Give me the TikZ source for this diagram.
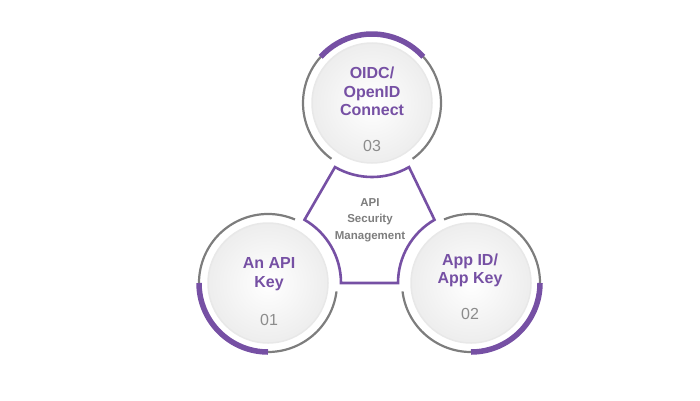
\documentclass[tikz,border=0pt]{standalone}
\usepackage{fontspec}
\setmainfont{Liberation Sans}
\definecolor{ringpurple}{RGB}{118,80,164}
\definecolor{ringgray}{RGB}{125,125,125}
\definecolor{numgray}{RGB}{140,140,140}
\definecolor{labgray}{RGB}{125,125,125}
\begin{document}
\begin{tikzpicture}[x=1pt,y=1pt,
  ring/.style={draw=ringgray, line width=2.2pt},
  accent/.style={draw=ringpurple, line width=5.5pt},
  disk/.style={circle, minimum size=120pt, inner sep=0pt, draw=black!9, line width=1.5pt, shading=radial, inner color=white, outer color=black!7},
  title/.style={text=ringpurple, font=\fontsize{16}{18.5}\selectfont\bfseries, anchor=base},
  num/.style={text=numgray, font=\fontsize{16}{18}\selectfont, anchor=base},
  hubtext/.style={text=labgray, font=\fontsize{11.5}{14}\selectfont\bfseries, anchor=base},
  hub/.style={draw=ringpurple, line width=2.6pt, line join=miter}
]
\useasboundingbox (0,0) rectangle (700,400);
\coordinate (T) at (372,297);
\coordinate (L) at (268,117);
\coordinate (R) at (471,117);

% disks
\node[disk] (dT) at (T) {};
\node[disk] (dL) at (L) {};
\node[disk] (dR) at (R) {};

% rings
\draw[ring] (T) ++(-54:69) arc[start angle=-54, end angle=234, radius=69];
\draw[ring] (L) ++(67:69) arc[start angle=67, end angle=353, radius=69];
\draw[ring] (R) ++(187:69) arc[start angle=187, end angle=473, radius=69];

% accents
\draw[accent] (T) ++(42:69) arc[start angle=42, end angle=138, radius=69];
\draw[accent] (L) ++(180:69) arc[start angle=180, end angle=270, radius=69];
\draw[accent] (R) ++(270:69) arc[start angle=270, end angle=360, radius=69];

% hub shape
\path (T) ++(-120:74) coordinate (p1);
\path (R) ++(120:73) coordinate (p2);
\path (L) ++(0:73) coordinate (p3);
\draw[hub] (p1) arc[start angle=-120, end angle=-60, radius=74]
  -- (p2) arc[start angle=120, end angle=180, radius=73]
  -- (p3) arc[start angle=0, end angle=60, radius=73] -- cycle;

% hub text
\node[hubtext] (h1) at (370,194) {API};
\node[hubtext] (h2) at (370,178) {Security};
\node[hubtext] (h3) at (370,161) {Management};

% top texts
\node[title] (t1) at (372,322) {OIDC/};
\node[title] (t2) at (372,303) {OpenID};
\node[title] (t3) at (372,285) {Connect};
\node[num] (t4) at (372,249) {03};

% left texts
\node[title] (l1) at (269,132) {An API};
\node[title] (l2) at (269,113) {Key};
\node[num] (l3) at (269,75) {01};

% right texts
\node[title] (r1) at (470,135) {App ID/};
\node[title] (r2) at (470,117) {App Key};
\node[num] (r3) at (470,81) {02};
\end{tikzpicture}
\end{document}
